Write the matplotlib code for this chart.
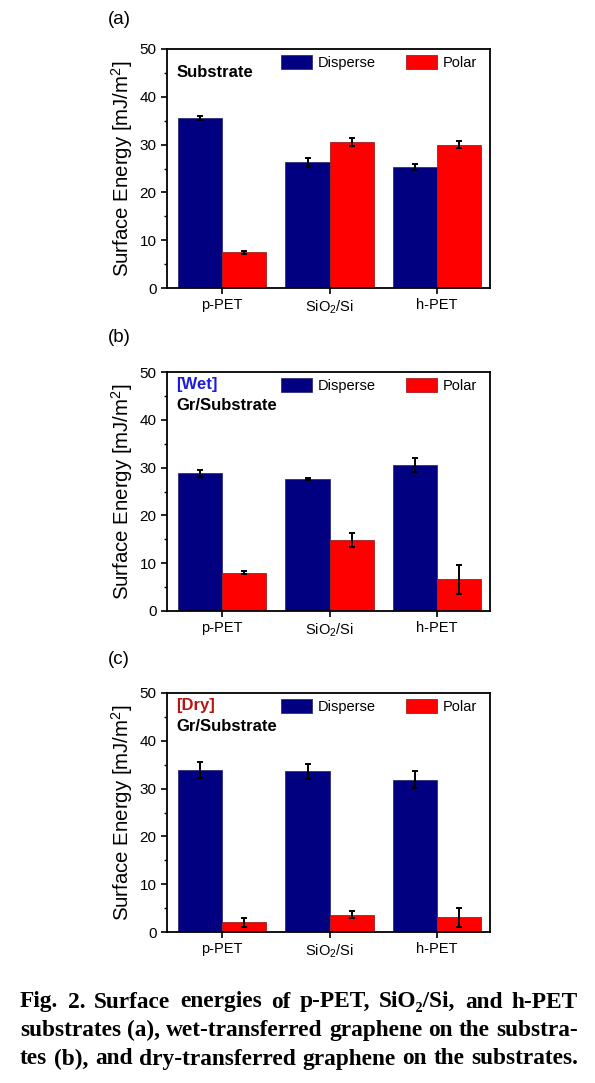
import matplotlib
matplotlib.use("Agg")
import matplotlib.pyplot as plt
import numpy as np
from matplotlib.ticker import MultipleLocator

plt.rcParams["font.family"] = ["Liberation Sans", "DejaVu Sans"]
plt.rcParams["mathtext.fontset"] = "custom"
plt.rcParams["mathtext.rm"] = "Liberation Sans"
plt.rcParams["mathtext.it"] = "Liberation Sans:italic"
plt.rcParams["mathtext.bf"] = "Liberation Sans:bold"

# ── Data ──────────────────────────────────────────────────────────────────────
categories = ["p-PET", "SiO$_2$/Si", "h-PET"]

disperse_a = [35.6, 26.3, 25.3]
disperse_a_err = [0.4, 0.9, 0.7]
polar_a = [7.5, 30.5, 30.0]
polar_a_err = [0.3, 0.8, 0.8]

disperse_b = [28.8, 27.6, 30.5]
disperse_b_err = [0.8, 0.2, 1.5]
polar_b = [8.0, 14.8, 6.6]
polar_b_err = [0.3, 1.5, 3.1]

disperse_c = [33.9, 33.6, 31.9]
disperse_c_err = [1.7, 1.5, 1.7]
polar_c = [2.0, 3.6, 3.1]
polar_c_err = [1.0, 0.7, 2.0]

caption_lines = [
    "Fig. 2. Surface energies of p-PET, SiO\u2082/Si, and h-PET",
    "substrates (a), wet-transferred graphene on the substra-",
    "tes (b), and dry-transferred graphene on the substrates.",
]
# ─────────────────────────────────────────────────────────────────────────────

NAVY = "#000080"
RED = "#ff0000"
W, H = 595, 1083
BAR_W = 0.41

fig = plt.figure(figsize=(W / 100, H / 100), dpi=100)


def px_axes(left, right, top, bottom):
    return fig.add_axes([left / W, 1 - bottom / H, (right - left) / W, (bottom - top) / H])


def panel(ax, disp, disp_err, pol, pol_err):
    x = np.arange(len(categories))
    ekw = dict(ecolor="black", elinewidth=1.4, capsize=2.2, capthick=1.4)
    ax.bar(x - BAR_W / 2, disp, BAR_W, yerr=disp_err, color=NAVY,
           edgecolor="#30307a", linewidth=0.6, label="Disperse", error_kw=ekw)
    ax.bar(x + BAR_W / 2, pol, BAR_W, yerr=pol_err, color=RED,
           edgecolor="#a02020", linewidth=0.6, label="Polar", error_kw=ekw)
    ax.set_xlim(-0.51, 2.49)
    ax.set_ylim(0, 50)
    ax.set_xticks(x)
    ax.set_xticklabels(categories, fontsize=10.5)
    ax.yaxis.set_major_locator(MultipleLocator(10))
    ax.yaxis.set_minor_locator(MultipleLocator(5))
    ax.tick_params(axis="y", which="major", labelsize=11, length=4, width=1.2, direction="out")
    ax.tick_params(axis="y", which="minor", length=2, width=1, direction="out")
    ax.tick_params(axis="x", length=4, width=1.2, direction="out")
    for s in ax.spines.values():
        s.set_linewidth(1.3)
    ax.set_ylabel("Surface Energy [mJ/m$^2$]", fontsize=14.7, labelpad=3)
    ax.legend(loc="upper right", bbox_to_anchor=(0.978, 1.0), ncol=2, frameon=False,
              fontsize=10.5, handlelength=2.1, handleheight=1.1,
              handletextpad=0.4, columnspacing=2.1, borderaxespad=0.0)


ax_a = px_axes(167, 490, 49, 288)
panel(ax_a, disperse_a, disperse_a_err, polar_a, polar_a_err)
ax_a.text(0.028, 0.90, "Substrate", transform=ax_a.transAxes, fontsize=12,
          fontweight="bold", va="center")

ax_b = px_axes(167, 490, 372, 611)
panel(ax_b, disperse_b, disperse_b_err, polar_b, polar_b_err)
ax_b.text(0.028, 0.946, "[Wet]", transform=ax_b.transAxes, fontsize=12,
          fontweight="bold", va="center", color="#1c1ce0")
ax_b.text(0.028, 0.858, "Gr/Substrate", transform=ax_b.transAxes, fontsize=12,
          fontweight="bold", va="center")

ax_c = px_axes(167, 490, 693, 932)
panel(ax_c, disperse_c, disperse_c_err, polar_c, polar_c_err)
ax_c.text(0.028, 0.946, "[Dry]", transform=ax_c.transAxes, fontsize=12,
          fontweight="bold", va="center", color="#b81414")
ax_c.text(0.028, 0.858, "Gr/Substrate", transform=ax_c.transAxes, fontsize=12,
          fontweight="bold", va="center")

for lab, y in [("(a)", 20), ("(b)", 337), ("(c)", 660)]:
    fig.text(108 / W, 1 - y / H, lab, fontsize=13.5, va="center", ha="left")

# caption, justified word by word
renderer = fig.canvas.get_renderer()
cap_kw = dict(fontsize=16.8, fontweight="bold", family=["Liberation Serif", "DejaVu Serif"],
              va="center", ha="left")
x0, x1 = 20, 578
for i, line in enumerate(caption_lines):
    y = 1 - (1002 + 28.5 * i) / H
    words = line.split(" ")
    texts = [fig.text(0, y, w_, **cap_kw) for w_ in words]
    widths = [t.get_window_extent(renderer).width for t in texts]
    gap = (x1 - x0 - sum(widths)) / (len(words) - 1)
    x = x0
    for t, wd in zip(texts, widths):
        t.set_x(x / W)
        x += wd + gap

fig.savefig("out.png", dpi=100)
